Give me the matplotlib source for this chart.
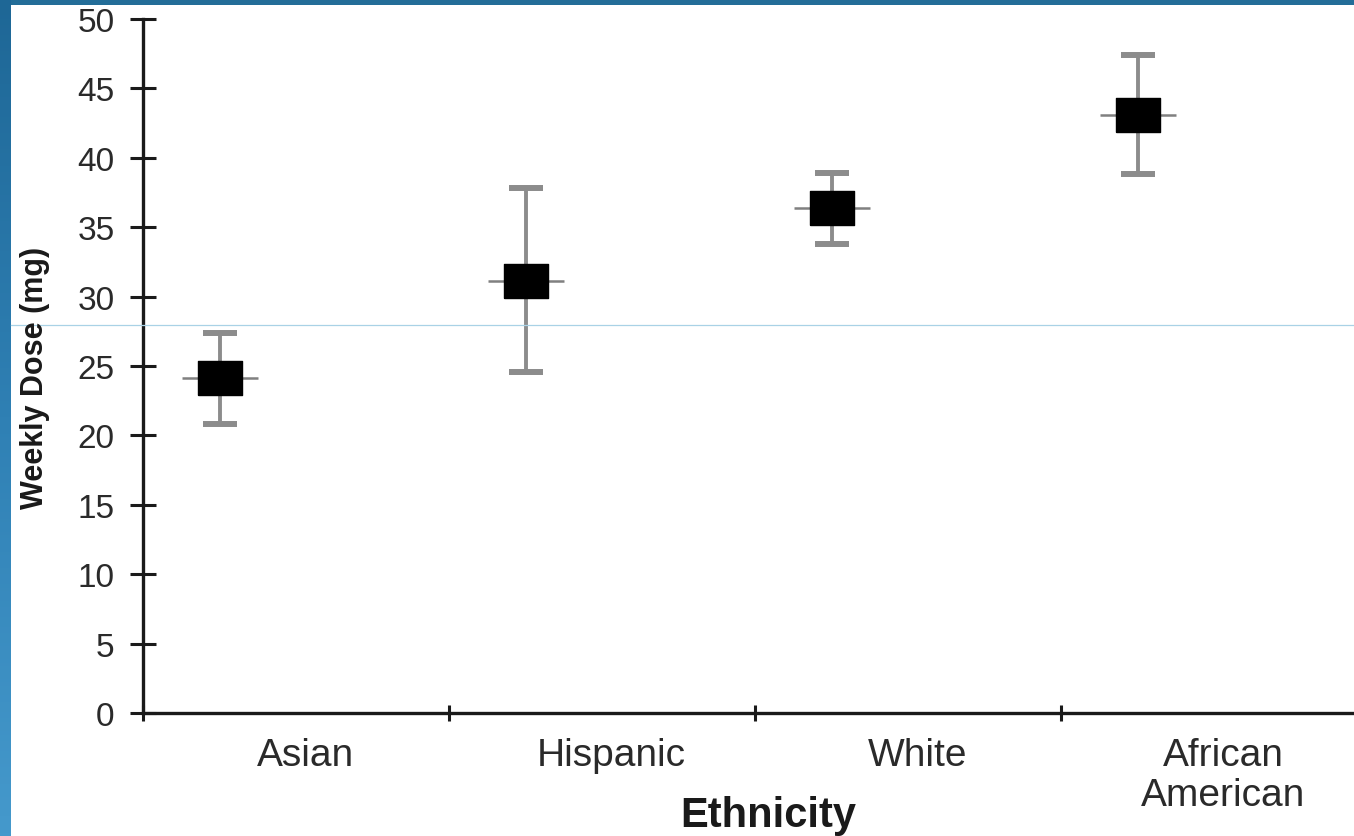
import numpy as np
import matplotlib
matplotlib.use("Agg")
import matplotlib.pyplot as plt
from matplotlib.colors import LinearSegmentedColormap
from matplotlib.lines import Line2D

plt.rcParams['font.family'] = ['Liberation Sans', 'DejaVu Sans']

# data
groups = ['Asian', 'Hispanic', 'White', 'African\nAmerican']
dose_mean = [24.1, 31.1, 36.4, 43.1]
dose_upper = [27.4, 37.8, 38.9, 47.4]
dose_lower = [20.8, 24.6, 33.8, 38.8]
y_ticks = [0, 5, 10, 15, 20, 25, 30, 35, 40, 45, 50]

fig = plt.figure(figsize=(13.54, 8.37), dpi=100)
fig.patch.set_facecolor('white')

# blue slide frame (top strip and left gradient strip)
top = fig.add_axes([0, 1 - 6 / 837, 1, 6 / 837])
top.set_axis_off()
top.add_patch(plt.Rectangle((0, 0), 1, 1, color='#236d98', transform=top.transAxes))
left = fig.add_axes([0, 0, 11 / 1354, 1])
cmap = LinearSegmentedColormap.from_list('band', ['#1e6796', '#2f80b4', '#4599cc'])
left.imshow(np.linspace(0, 1, 256).reshape(-1, 1), aspect='auto', cmap=cmap)
left.set_axis_off()

ax = fig.add_axes([143 / 1354, 1 - 714 / 837, 1 - 143 / 1354, (714 - 20) / 837])
x = np.arange(len(groups))
xp = x + 0.25
mean = np.array(dose_mean)
err = [mean - np.array(dose_lower), np.array(dose_upper) - mean]

# gray horizontal tick through each point
ax.plot(xp, mean, linestyle='none', marker='_', markersize=55,
        markeredgewidth=1.8, color='#808080', zorder=2)
eb = ax.errorbar(xp, mean, yerr=err, fmt='none', ecolor='#8c8c8c',
                 elinewidth=2.8, capsize=12, capthick=4.3, zorder=2)
for cap in eb[1]:
    cap.set_color('black')
rect = [(-1.27, -1), (1.27, -1), (1.27, 1), (-1.27, 1), (-1.27, -1)]
ax.plot(xp, mean, linestyle='none', marker=rect, markersize=31,
        color='black', zorder=3)

ax.set_xlim(0, (1354 - 143) / 306)
ax.set_ylim(0, 50)
for s in ['top', 'right']:
    ax.spines[s].set_visible(False)
for s in ['left', 'bottom']:
    ax.spines[s].set_linewidth(2.4)
    ax.spines[s].set_color('#1a1a1a')

ax.set_yticks(y_ticks)
ax.tick_params(axis='y', direction='inout', length=19, width=2.2, pad=11,
               labelsize=24, labelcolor='#2a2a2a', color='#1a1a1a')
ax.set_xticks(x)
ax.set_xticklabels([''] * len(x))
ax.tick_params(axis='x', which='major', direction='inout', length=11, width=2.2,
               color='#1a1a1a')
ax.set_xticks(x + 0.53, groups, minor=True)
ax.tick_params(axis='x', which='minor', length=0, pad=17, labelsize=28,
               labelcolor='#2a2a2a')
for lab in ax.get_xticklabels(minor=True):
    lab.set_linespacing(1.15)

fig.text(43 / 1354, 1 - 378 / 837, 'Weekly Dose (mg)', rotation=90,
         rotation_mode='anchor', ha='center', va='baseline',
         fontsize=22, fontweight='bold', color='#1a1a1a')
fig.text(768 / 1354, 1 - 827 / 837, 'Ethnicity', ha='center', va='baseline',
         fontsize=30, fontweight='bold', color='#1a1a1a')

# faint light-blue line across the slide
fig.add_artist(Line2D([11 / 1354, 1], [1 - 326 / 837] * 2, transform=fig.transFigure,
                      color='#a9d2e6', linewidth=0.9))

fig.savefig('out.png', dpi=100)
